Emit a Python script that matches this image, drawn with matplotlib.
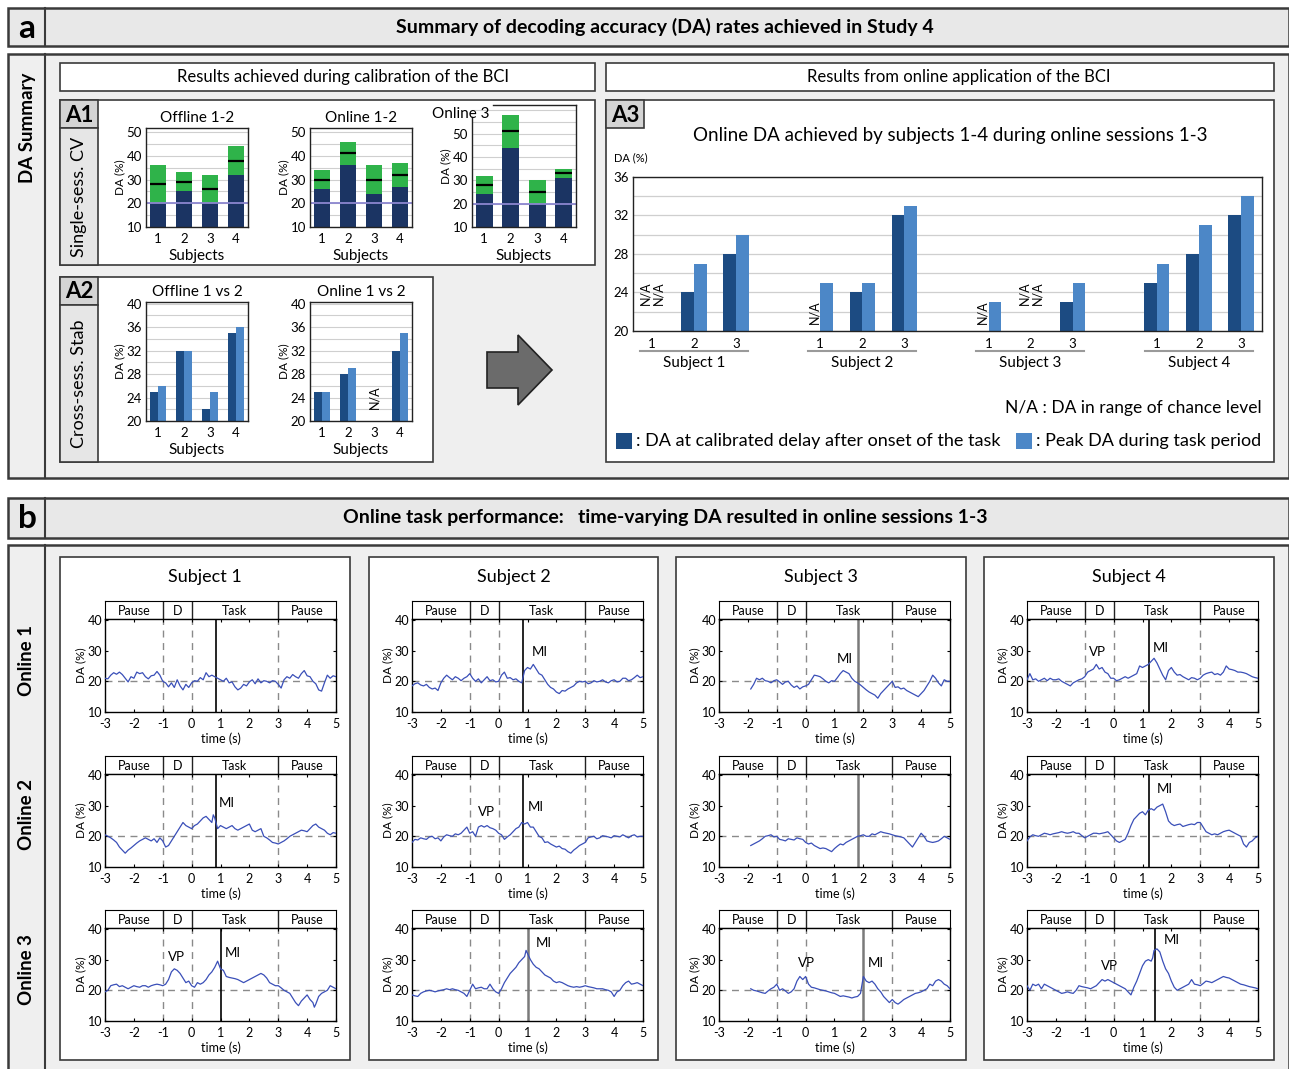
import matplotlib.pyplot as plt
from matplotlib.patches import Rectangle, Polygon

plt.rcParams['font.family'] = ['Lato', 'DejaVu Sans']
plt.rcParams['axes.unicode_minus'] = False

W, H = 1289, 1069

# ---- calibration results (single-session CV) ----
subjects = [1, 2, 3, 4]
cv_titles = ['Offline 1-2', 'Online 1-2', 'Online 3']
cv_base = [[20, 25, 20, 32], [26, 36, 24, 27], [24, 44, 20, 31]]
cv_peak = [[36, 33, 32, 44], [34, 46, 36, 37], [32, 58, 30, 35]]
cv_mean = [[28, 29, 26, 38], [30, 41, 30, 32], [28, 51, 25, 33]]

# ---- cross-session stability ----
stab_titles = ['Offline 1 vs 2', 'Online 1 vs 2']
stab_delay = [[25, 32, 22, 35], [25, 28, None, 32]]
stab_peak = [[26, 32, 25, 36], [25, 29, None, 35]]

# ---- online sessions 1-3 per subject (None = chance level) ----
sessions = [1, 2, 3]
online_delay = [[None, 24, 28], [None, 24, 32], [None, None, 23], [25, 28, 32]]
online_peak = [[None, 27, 30], [25, 25, 33], [23, None, 25], [27, 31, 34]]

# ---- time-varying DA, (time s, DA %) ----
on1_s1 = [(-3.0, 21.0), (-2.9, 20.8), (-2.8, 22.0), (-2.7, 22.8), (-2.6, 22.3), (-2.5, 23.0), (-2.4, 22.2),
          (-2.3, 21.0), (-2.2, 19.8), (-2.1, 21.5), (-2.0, 21.0), (-1.9, 23.0), (-1.8, 22.5), (-1.7, 22.8),
          (-1.6, 21.5), (-1.5, 20.8), (-1.4, 21.8), (-1.3, 22.0), (-1.2, 23.2), (-1.1, 22.0), (-1.0, 20.0),
          (-0.9, 19.5), (-0.8, 18.2), (-0.7, 19.5), (-0.6, 18.0), (-0.5, 20.5), (-0.4, 18.5), (-0.3, 17.2),
          (-0.2, 19.0), (-0.1, 18.0), (0.0, 19.5), (0.1, 20.2), (0.2, 20.0), (0.3, 21.2), (0.4, 20.5),
          (0.5, 22.8), (0.6, 21.5), (0.7, 22.0), (0.8, 21.5), (0.9, 21.0), (1.0, 20.5), (1.1, 20.0),
          (1.2, 21.0), (1.3, 19.5), (1.4, 19.8), (1.5, 18.2), (1.6, 17.2), (1.7, 17.8), (1.8, 19.0),
          (1.9, 18.5), (2.0, 19.8), (2.1, 20.5), (2.2, 19.2), (2.3, 20.8), (2.4, 19.5), (2.5, 20.2),
          (2.6, 20.0), (2.7, 19.5), (2.8, 20.2), (2.9, 20.0), (3.0, 19.0), (3.1, 17.8), (3.2, 20.5),
          (3.3, 21.5), (3.4, 21.0), (3.5, 22.2), (3.6, 21.5), (3.7, 21.0), (3.8, 22.5), (3.9, 23.5),
          (4.0, 21.8), (4.1, 21.5), (4.2, 20.0), (4.3, 19.2), (4.4, 17.2), (4.5, 16.8), (4.6, 19.5),
          (4.7, 22.0), (4.8, 21.0), (4.9, 21.8), (5.0, 21.5)]
on1_s2 = [(-3.0, 18.5), (-2.9, 19.2), (-2.8, 19.5), (-2.7, 18.8), (-2.6, 18.5), (-2.5, 19.0), (-2.4, 18.0),
          (-2.3, 17.5), (-2.2, 17.8), (-2.1, 17.0), (-2.0, 19.5), (-1.9, 21.0), (-1.8, 22.0), (-1.7, 21.2),
          (-1.6, 20.5), (-1.5, 21.5), (-1.4, 21.0), (-1.3, 20.2), (-1.2, 21.0), (-1.1, 21.5), (-1.0, 22.5),
          (-0.9, 21.0), (-0.8, 20.0), (-0.7, 20.8), (-0.6, 19.5), (-0.5, 20.5), (-0.4, 21.5), (-0.3, 20.2),
          (-0.2, 20.5), (-0.1, 19.8), (0.0, 20.0), (0.1, 22.0), (0.2, 23.0), (0.3, 21.0), (0.4, 21.2),
          (0.5, 20.5), (0.6, 20.8), (0.7, 20.0), (0.8, 19.5), (0.9, 23.5), (1.0, 24.5), (1.1, 24.0),
          (1.2, 25.5), (1.3, 24.0), (1.4, 22.5), (1.5, 22.0), (1.6, 20.5), (1.7, 19.0), (1.8, 18.0),
          (1.9, 17.5), (2.0, 16.5), (2.1, 16.0), (2.2, 17.0), (2.3, 16.8), (2.4, 17.5), (2.5, 18.0),
          (2.6, 18.5), (2.7, 19.5), (2.8, 20.0), (2.9, 19.8), (3.0, 20.0), (3.1, 19.2), (3.2, 19.5),
          (3.3, 20.2), (3.4, 19.8), (3.5, 20.0), (3.6, 20.5), (3.7, 19.8), (3.8, 19.5), (3.9, 20.2),
          (4.0, 20.5), (4.1, 19.8), (4.2, 20.0), (4.3, 21.0), (4.4, 21.0), (4.5, 20.2), (4.6, 20.5),
          (4.7, 21.2), (4.8, 22.0), (4.9, 21.2), (5.0, 21.5)]
on1_s3 = [(-1.9, 17.5), (-1.8, 19.0), (-1.7, 21.0), (-1.6, 20.5), (-1.5, 21.0), (-1.4, 20.2), (-1.3, 20.0),
          (-1.2, 19.5), (-1.1, 20.2), (-1.0, 20.5), (-0.9, 19.8), (-0.8, 19.0), (-0.7, 19.8), (-0.6, 20.0),
          (-0.5, 18.8), (-0.4, 18.0), (-0.3, 18.5), (-0.2, 17.5), (-0.1, 18.2), (0.0, 18.5), (0.1, 19.0),
          (0.2, 20.5), (0.3, 22.0), (0.4, 21.8), (0.5, 21.5), (0.6, 20.8), (0.7, 20.0), (0.8, 19.5),
          (0.9, 20.2), (1.0, 20.0), (1.1, 21.2), (1.2, 22.5), (1.3, 23.5), (1.4, 23.0), (1.5, 22.5),
          (1.6, 21.0), (1.7, 20.0), (1.8, 19.5), (1.9, 18.8), (2.0, 18.0), (2.1, 17.2), (2.2, 16.5),
          (2.3, 16.0), (2.4, 15.5), (2.5, 14.5), (2.6, 16.0), (2.7, 17.0), (2.8, 18.0), (2.9, 19.0),
          (3.0, 20.0), (3.1, 18.0), (3.2, 18.2), (3.3, 17.5), (3.4, 17.8), (3.5, 17.0), (3.6, 16.5),
          (3.7, 16.0), (3.8, 15.5), (3.9, 15.0), (4.0, 16.0), (4.1, 17.0), (4.2, 18.5), (4.3, 20.0),
          (4.4, 22.0), (4.5, 21.0), (4.6, 19.5), (4.7, 18.5), (4.8, 20.5), (4.9, 20.0), (5.0, 20.0)]
on1_s4 = [(-3.0, 20.5), (-2.9, 22.5), (-2.8, 20.5), (-2.7, 20.8), (-2.6, 20.0), (-2.5, 20.5), (-2.4, 21.0),
          (-2.3, 20.2), (-2.2, 21.0), (-2.1, 20.5), (-2.0, 20.5), (-1.9, 20.8), (-1.8, 20.0), (-1.7, 19.5),
          (-1.6, 19.0), (-1.5, 18.5), (-1.4, 19.5), (-1.3, 20.0), (-1.2, 20.5), (-1.1, 20.8), (-1.0, 21.5),
          (-0.9, 23.0), (-0.8, 23.5), (-0.7, 24.0), (-0.6, 25.5), (-0.5, 24.0), (-0.4, 24.5), (-0.3, 23.0),
          (-0.2, 22.5), (-0.1, 21.0), (0.0, 21.0), (0.1, 20.2), (0.2, 20.5), (0.3, 21.0), (0.4, 21.5),
          (0.5, 21.0), (0.6, 21.5), (0.7, 22.0), (0.8, 22.5), (0.9, 25.0), (1.0, 24.5), (1.1, 25.0),
          (1.2, 25.5), (1.3, 26.5), (1.4, 27.5), (1.5, 26.0), (1.6, 24.0), (1.7, 22.0), (1.8, 20.5),
          (1.9, 23.5), (2.0, 24.5), (2.1, 23.0), (2.2, 22.0), (2.3, 22.2), (2.4, 21.5), (2.5, 21.0),
          (2.6, 20.5), (2.7, 21.2), (2.8, 21.0), (2.9, 20.5), (3.0, 21.0), (3.1, 22.0), (3.2, 22.5),
          (3.3, 22.8), (3.4, 23.0), (3.5, 22.2), (3.6, 22.5), (3.7, 22.0), (3.8, 23.0), (3.9, 25.0),
          (4.0, 24.0), (4.1, 23.8), (4.2, 23.5), (4.3, 23.0), (4.4, 23.0), (4.5, 22.8), (4.6, 22.5),
          (4.7, 22.0), (4.8, 21.5), (4.9, 21.2), (5.0, 21.0)]
on2_s1 = [(-3.0, 20.5), (-2.9, 20.0), (-2.8, 19.5), (-2.7, 18.8), (-2.6, 18.0), (-2.5, 16.5), (-2.4, 15.5),
          (-2.3, 14.5), (-2.2, 15.5), (-2.1, 16.2), (-2.0, 17.0), (-1.9, 17.8), (-1.8, 18.5), (-1.7, 19.0),
          (-1.6, 19.5), (-1.5, 19.0), (-1.4, 18.5), (-1.3, 19.2), (-1.2, 18.0), (-1.1, 19.5), (-1.0, 18.5),
          (-0.9, 16.5), (-0.8, 17.0), (-0.7, 18.5), (-0.6, 20.0), (-0.5, 21.5), (-0.4, 23.0), (-0.3, 24.5),
          (-0.2, 23.5), (-0.1, 23.0), (0.0, 22.5), (0.1, 23.5), (0.2, 24.0), (0.3, 25.0), (0.4, 26.0),
          (0.5, 26.5), (0.6, 25.5), (0.7, 24.5), (0.75, 27.0), (0.8, 26.0), (0.9, 22.5), (1.0, 23.5),
          (1.1, 23.0), (1.2, 22.5), (1.3, 23.0), (1.4, 23.5), (1.5, 22.5), (1.6, 22.0), (1.7, 22.5),
          (1.8, 23.0), (1.9, 23.5), (2.0, 24.0), (2.1, 22.0), (2.2, 21.5), (2.3, 22.0), (2.4, 22.5),
          (2.5, 20.0), (2.6, 19.5), (2.7, 18.8), (2.8, 18.0), (2.9, 17.8), (3.0, 17.5), (3.1, 18.0),
          (3.2, 18.5), (3.3, 19.2), (3.4, 20.0), (3.5, 20.5), (3.6, 21.0), (3.7, 21.5), (3.8, 22.0),
          (3.9, 21.8), (4.0, 21.5), (4.1, 22.5), (4.2, 23.5), (4.3, 24.0), (4.4, 23.0), (4.5, 22.5),
          (4.6, 22.0), (4.7, 21.0), (4.8, 20.5), (4.9, 21.2), (5.0, 21.0)]
on2_s2 = [(-3.0, 18.0), (-2.9, 19.0), (-2.8, 18.8), (-2.7, 19.5), (-2.6, 19.2), (-2.5, 19.0), (-2.4, 19.8),
          (-2.3, 20.0), (-2.2, 19.2), (-2.1, 19.5), (-2.0, 18.5), (-1.9, 19.8), (-1.8, 20.5), (-1.7, 20.2),
          (-1.6, 20.0), (-1.5, 20.8), (-1.4, 20.5), (-1.3, 21.0), (-1.2, 22.0), (-1.1, 23.0), (-1.0, 21.0),
          (-0.9, 21.5), (-0.8, 20.0), (-0.7, 23.0), (-0.6, 23.5), (-0.5, 23.0), (-0.4, 23.5), (-0.3, 22.8),
          (-0.2, 22.5), (-0.1, 22.0), (0.0, 21.0), (0.1, 20.5), (0.2, 19.0), (0.3, 19.8), (0.4, 20.5),
          (0.5, 21.5), (0.6, 22.5), (0.7, 23.0), (0.8, 24.5), (0.9, 24.0), (1.0, 24.5), (1.1, 23.0),
          (1.2, 23.0), (1.3, 21.5), (1.4, 20.0), (1.5, 19.5), (1.6, 18.0), (1.7, 18.2), (1.8, 17.5),
          (1.9, 17.0), (2.0, 16.5), (2.1, 16.8), (2.2, 16.0), (2.3, 15.8), (2.4, 15.0), (2.5, 14.5),
          (2.6, 15.5), (2.7, 16.2), (2.8, 17.0), (2.9, 17.5), (3.0, 18.0), (3.1, 19.5), (3.2, 19.8),
          (3.3, 20.0), (3.4, 19.2), (3.5, 19.5), (3.6, 20.2), (3.7, 20.0), (3.8, 19.8), (3.9, 19.5),
          (4.0, 20.2), (4.1, 20.0), (4.2, 19.8), (4.3, 20.5), (4.4, 20.0), (4.5, 19.5), (4.6, 20.2),
          (4.7, 20.5), (4.8, 19.8), (4.9, 20.0), (5.0, 20.0)]
on2_s3 = [(-1.9, 17.0), (-1.8, 17.5), (-1.7, 18.0), (-1.6, 18.5), (-1.5, 19.2), (-1.4, 20.0), (-1.3, 20.2),
          (-1.2, 20.5), (-1.1, 19.8), (-1.0, 20.0), (-0.9, 19.0), (-0.8, 18.8), (-0.7, 18.5), (-0.6, 19.2),
          (-0.5, 19.0), (-0.4, 18.8), (-0.3, 19.5), (-0.2, 19.2), (-0.1, 19.0), (0.0, 18.0), (0.1, 17.5),
          (0.2, 17.8), (0.3, 17.0), (0.4, 16.5), (0.5, 16.0), (0.6, 16.2), (0.7, 16.0), (0.8, 15.5),
          (0.9, 15.0), (1.0, 16.0), (1.1, 16.8), (1.2, 17.5), (1.3, 17.2), (1.4, 18.0), (1.5, 18.5),
          (1.6, 19.0), (1.7, 19.5), (1.8, 20.0), (1.9, 20.2), (2.0, 20.5), (2.1, 20.0), (2.2, 20.0),
          (2.3, 20.8), (2.4, 20.5), (2.5, 21.0), (2.6, 21.5), (2.7, 21.2), (2.8, 21.0), (2.9, 20.8),
          (3.0, 20.5), (3.1, 20.2), (3.2, 20.0), (3.3, 19.8), (3.4, 19.5), (3.5, 18.5), (3.6, 17.5),
          (3.7, 16.5), (3.8, 18.0), (3.9, 19.5), (4.0, 21.0), (4.1, 20.0), (4.2, 18.5), (4.3, 18.2),
          (4.4, 18.0), (4.5, 18.2), (4.6, 18.5), (4.7, 19.2), (4.8, 20.0), (4.9, 19.5), (5.0, 19.0)]
on2_s4 = [(-3.0, 18.5), (-2.9, 19.8), (-2.8, 20.5), (-2.7, 20.2), (-2.6, 20.0), (-2.5, 20.5), (-2.4, 21.0),
          (-2.3, 20.8), (-2.2, 20.5), (-2.1, 20.8), (-2.0, 21.0), (-1.9, 21.2), (-1.8, 21.5), (-1.7, 21.2),
          (-1.6, 21.0), (-1.5, 21.2), (-1.4, 21.5), (-1.3, 21.0), (-1.2, 21.0), (-1.1, 20.2), (-1.0, 19.5),
          (-0.9, 20.0), (-0.8, 20.5), (-0.7, 21.0), (-0.6, 21.0), (-0.5, 20.8), (-0.4, 21.0), (-0.3, 21.2),
          (-0.2, 21.5), (-0.1, 20.5), (0.0, 19.5), (0.1, 18.5), (0.2, 18.0), (0.3, 18.5), (0.4, 19.0),
          (0.5, 21.0), (0.6, 23.5), (0.7, 25.5), (0.8, 26.5), (0.9, 27.5), (1.0, 28.0), (1.1, 27.0),
          (1.2, 28.5), (1.3, 29.0), (1.4, 28.5), (1.5, 29.5), (1.6, 30.0), (1.7, 30.5), (1.8, 28.0),
          (1.9, 25.0), (2.0, 24.0), (2.1, 23.5), (2.2, 23.8), (2.3, 24.0), (2.4, 23.2), (2.5, 23.5),
          (2.6, 23.8), (2.7, 24.0), (2.8, 23.8), (2.9, 24.5), (3.0, 24.5), (3.1, 23.0), (3.2, 21.5),
          (3.3, 21.0), (3.4, 20.5), (3.5, 20.8), (3.6, 20.5), (3.7, 21.0), (3.8, 21.5), (3.9, 21.8),
          (4.0, 22.0), (4.1, 21.5), (4.2, 21.0), (4.3, 20.5), (4.4, 20.0), (4.5, 17.5), (4.6, 16.5),
          (4.7, 18.0), (4.8, 18.5), (4.9, 19.5), (5.0, 20.0)]
on3_s1 = [(-3.0, 19.5), (-2.9, 20.0), (-2.8, 21.5), (-2.7, 21.8), (-2.6, 22.0), (-2.5, 21.2), (-2.4, 21.5),
          (-2.3, 21.0), (-2.2, 20.5), (-2.1, 21.0), (-2.0, 21.5), (-1.9, 21.2), (-1.8, 21.0), (-1.7, 21.5),
          (-1.6, 21.5), (-1.5, 21.0), (-1.4, 21.5), (-1.3, 21.8), (-1.2, 22.0), (-1.1, 21.8), (-1.0, 21.5),
          (-0.9, 22.0), (-0.8, 23.5), (-0.7, 26.0), (-0.6, 27.0), (-0.5, 26.5), (-0.4, 25.5), (-0.3, 24.0),
          (-0.2, 22.5), (-0.1, 23.0), (0.0, 21.5), (0.1, 21.0), (0.2, 22.5), (0.3, 22.0), (0.4, 22.5),
          (0.5, 23.5), (0.6, 25.0), (0.7, 26.0), (0.8, 27.5), (0.9, 29.5), (1.0, 27.0), (1.1, 26.5),
          (1.2, 24.5), (1.3, 24.2), (1.4, 24.0), (1.5, 23.8), (1.6, 23.5), (1.7, 23.0), (1.8, 22.5),
          (1.9, 23.0), (2.0, 23.5), (2.1, 24.0), (2.2, 24.5), (2.3, 25.0), (2.4, 25.5), (2.5, 25.0),
          (2.6, 24.0), (2.7, 22.5), (2.8, 22.0), (2.9, 21.5), (3.0, 21.5), (3.1, 20.8), (3.2, 20.0),
          (3.3, 19.5), (3.4, 19.0), (3.5, 17.5), (3.6, 16.0), (3.7, 15.0), (3.8, 16.5), (3.9, 17.5),
          (4.0, 18.5), (4.1, 17.0), (4.2, 16.0), (4.25, 14.5), (4.3, 15.5), (4.4, 18.0), (4.5, 19.0),
          (4.6, 19.5), (4.7, 20.0), (4.8, 21.5), (4.9, 21.0), (5.0, 20.5)]
on3_s2 = [(-3.0, 18.5), (-2.9, 18.2), (-2.8, 18.0), (-2.7, 19.0), (-2.6, 19.5), (-2.5, 19.8), (-2.4, 20.0),
          (-2.3, 19.8), (-2.2, 19.5), (-2.1, 19.8), (-2.0, 20.0), (-1.9, 20.2), (-1.8, 20.5), (-1.7, 20.2),
          (-1.6, 20.5), (-1.5, 20.2), (-1.4, 20.0), (-1.3, 19.5), (-1.2, 19.0), (-1.1, 18.0), (-1.0, 20.0),
          (-0.9, 22.0), (-0.8, 20.5), (-0.7, 20.8), (-0.6, 21.0), (-0.5, 20.5), (-0.4, 20.5), (-0.3, 22.0),
          (-0.2, 20.5), (-0.1, 19.5), (0.0, 19.0), (0.1, 20.5), (0.2, 22.5), (0.3, 24.0), (0.4, 25.5),
          (0.5, 26.5), (0.6, 27.5), (0.7, 29.0), (0.8, 30.0), (0.9, 31.0), (0.95, 33.0), (1.0, 32.0),
          (1.1, 30.0), (1.2, 28.5), (1.3, 27.5), (1.4, 27.0), (1.5, 26.0), (1.6, 25.0), (1.7, 24.5),
          (1.8, 24.0), (1.9, 23.0), (2.0, 22.5), (2.1, 22.8), (2.2, 22.5), (2.3, 22.0), (2.4, 21.5),
          (2.5, 21.2), (2.6, 21.0), (2.7, 21.2), (2.8, 21.0), (2.9, 21.2), (3.0, 21.5), (3.1, 21.2),
          (3.2, 21.0), (3.3, 20.8), (3.4, 20.5), (3.5, 20.5), (3.6, 20.5), (3.7, 20.2), (3.8, 20.0),
          (3.9, 19.5), (4.0, 18.0), (4.1, 19.5), (4.2, 20.0), (4.3, 21.5), (4.4, 22.5), (4.5, 23.0),
          (4.6, 22.0), (4.7, 22.2), (4.8, 22.5), (4.9, 22.0), (5.0, 21.5)]
on3_s3 = [(-1.9, 20.5), (-1.8, 20.0), (-1.7, 19.8), (-1.6, 19.5), (-1.5, 19.2), (-1.4, 19.0), (-1.3, 19.8),
          (-1.2, 20.5), (-1.1, 21.0), (-1.0, 22.0), (-0.9, 20.0), (-0.8, 20.5), (-0.7, 19.8), (-0.6, 19.0),
          (-0.5, 19.5), (-0.4, 20.5), (-0.3, 23.0), (-0.2, 24.5), (-0.1, 23.5), (0.0, 24.5), (0.1, 22.0),
          (0.2, 21.0), (0.3, 20.8), (0.4, 20.5), (0.5, 20.2), (0.6, 20.0), (0.7, 19.8), (0.8, 19.5),
          (0.9, 19.2), (1.0, 19.0), (1.1, 18.5), (1.2, 18.0), (1.3, 18.2), (1.4, 18.0), (1.5, 17.8),
          (1.6, 17.5), (1.7, 17.8), (1.8, 18.0), (1.9, 19.0), (2.0, 24.5), (2.1, 23.0), (2.2, 22.5),
          (2.3, 23.0), (2.4, 22.0), (2.5, 20.5), (2.6, 19.5), (2.7, 18.0), (2.8, 17.0), (2.9, 16.0),
          (3.0, 17.0), (3.1, 16.0), (3.2, 15.5), (3.3, 16.2), (3.4, 17.0), (3.5, 17.5), (3.6, 18.0),
          (3.7, 18.5), (3.8, 19.0), (3.9, 19.2), (4.0, 19.5), (4.1, 20.0), (4.2, 20.5), (4.3, 22.0),
          (4.4, 21.5), (4.5, 23.0), (4.6, 23.5), (4.7, 23.0), (4.8, 22.0), (4.9, 21.5), (5.0, 20.5)]
on3_s4 = [(-3.0, 21.5), (-2.9, 20.0), (-2.8, 22.0), (-2.7, 21.5), (-2.6, 22.0), (-2.5, 20.5), (-2.4, 22.0),
          (-2.3, 21.5), (-2.2, 21.0), (-2.1, 20.5), (-2.0, 20.0), (-1.9, 19.5), (-1.8, 19.0), (-1.7, 19.2),
          (-1.6, 19.5), (-1.5, 19.2), (-1.4, 19.0), (-1.3, 20.0), (-1.2, 21.5), (-1.1, 21.2), (-1.0, 21.0),
          (-0.9, 20.8), (-0.8, 20.5), (-0.7, 21.0), (-0.6, 21.5), (-0.5, 22.5), (-0.4, 23.5), (-0.3, 23.0),
          (-0.2, 23.5), (-0.1, 23.0), (0.0, 22.5), (0.1, 22.0), (0.2, 21.5), (0.3, 21.0), (0.4, 20.5),
          (0.5, 19.5), (0.6, 18.5), (0.7, 21.0), (0.8, 23.0), (0.9, 25.5), (1.0, 28.0), (1.1, 29.5),
          (1.2, 30.0), (1.3, 29.5), (1.35, 30.5), (1.4, 33.0), (1.5, 33.5), (1.6, 32.5), (1.7, 29.5),
          (1.8, 27.0), (1.9, 25.5), (2.0, 23.0), (2.1, 21.0), (2.2, 20.0), (2.3, 20.5), (2.4, 21.0),
          (2.5, 21.5), (2.6, 22.0), (2.7, 23.5), (2.8, 22.0), (2.9, 21.8), (3.0, 21.5), (3.1, 22.2),
          (3.2, 23.0), (3.3, 22.8), (3.4, 22.5), (3.5, 23.0), (3.6, 23.5), (3.7, 24.0), (3.8, 24.5),
          (3.9, 24.2), (4.0, 24.0), (4.1, 23.5), (4.2, 23.0), (4.3, 22.5), (4.4, 22.0), (4.5, 21.8),
          (4.6, 21.5), (4.7, 21.2), (4.8, 21.0), (4.9, 20.8), (5.0, 20.5)]

traces = [[on1_s1, on1_s2, on1_s3, on1_s4],
          [on2_s1, on2_s2, on2_s3, on2_s4],
          [on3_s1, on3_s2, on3_s3, on3_s4]]
# calibrated delay used online (s)
onset = [[0.83, 0.84, 1.8, 1.24], [0.83, 0.84, 1.8, 1.24], [1.03, 1.03, 2.0, 1.43]]
onset_grey = [[False, False, True, False], [False, False, True, False], [False, True, True, False]]
marks = [(0, 1, 'MI', 1.44, 29.5), (0, 2, 'MI', 1.36, 27.3), (0, 3, 'VP', -0.56, 29.5), (0, 3, 'MI', 1.64, 31.0),
         (1, 0, 'MI', 1.23, 31.0), (1, 1, 'VP', -0.43, 27.8), (1, 1, 'MI', 1.27, 29.5), (1, 3, 'MI', 1.77, 35.4),
         (2, 0, 'VP', -0.51, 31.0), (2, 0, 'MI', 1.43, 32.0), (2, 1, 'MI', 1.56, 35.4),
         (2, 2, 'VP', 0.03, 29.0), (2, 2, 'MI', 2.43, 29.0), (2, 3, 'VP', -0.16, 27.8), (2, 3, 'MI', 2.03, 36.3)]

navy = '#1b3463'
green = '#2fb34a'
dark_blue = '#1c4b82'
light_blue = '#4c87c7'
chance_purple = '#8c86d0'
trace_blue = '#3a4fb8'
edge = '#3a3a3a'


def box(x0, y0, x1, y1):
    return [x0 / W, 1 - y1 / H, (x1 - x0) / W, (y1 - y0) / H]


fig = plt.figure(figsize=(W / 100, H / 100), dpi=100)
bg = fig.add_axes([0, 0, 1, 1])
bg.set_xlim(0, W)
bg.set_ylim(H, 0)
bg.axis('off')


def rect(x0, y0, x1, y1, fc, ec=edge, lw=1.2):
    bg.add_patch(Rectangle((x0, y0), x1 - x0, y1 - y0, facecolor=fc, edgecolor=ec, linewidth=lw))


# section headers
for y0, y1, letter, title in [(8, 46, 'a', 'Summary of decoding accuracy (DA) rates achieved in Study 4'),
                              (498, 538, 'b', 'Online task performance:   time-varying DA resulted in online sessions 1-3')]:
    rect(8, y0, 1289, y1, '#e8e8e8', lw=1.8)
    bg.plot([45, 45], [y0, y1], color=edge, lw=1.5)
    bg.text(27, (y0 + y1) / 2 + 1, letter, ha='center', va='center', fontsize=24, fontweight='bold')
    bg.text(665, (y0 + y1) / 2, title, ha='center', va='center', fontsize=14, fontweight='bold')

# section bodies
rect(8, 54, 1289, 478, '#efefef', lw=1.8)
bg.plot([45, 45], [54, 478], color=edge, lw=1.5)
bg.text(27, 128, 'DA Summary', rotation=90, ha='center', va='center', fontsize=13.5, fontweight='bold')
rect(8, 545, 1289, 1075, '#efefef', lw=1.8)
bg.plot([45, 45], [545, 1069], color=edge, lw=1.5)
for yc, lab in zip([660, 815, 970], ['Online 1', 'Online 2', 'Online 3']):
    bg.text(27, yc, lab, rotation=90, ha='center', va='center', fontsize=13.5, fontweight='bold')

rect(60, 63, 595, 91, 'white')
bg.text(343, 77, 'Results achieved during calibration of the BCI', ha='center', va='center', fontsize=12)
rect(606, 63, 1274, 91, 'white')
bg.text(959, 77, 'Results from online application of the BCI', ha='center', va='center', fontsize=12)

# A1 / A2 / A3 frames
for x0, y0, x1, y1, tag, side in [(60, 100, 595, 265, 'A1', 'Single-sess. CV'),
                                  (60, 277, 433, 462, 'A2', 'Cross-sess. Stab'),
                                  (606, 100, 1274, 462, 'A3', None)]:
    rect(x0, y0, x1, y1, 'white')
    rect(x0, y0, x0 + 38, y0 + 28, '#d4d4d4')
    bg.text(x0 + 19, y0 + 15, tag, ha='center', va='center', fontsize=16, fontweight='bold')
    if side:
        rect(x0, y0 + 28, x0 + 38, y1, '#e6e6e6')
        bg.text(x0 + 19, (y0 + 28 + y1) / 2, side, rotation=90, ha='center', va='center', fontsize=13)

# arrow between calibration and online results
bg.add_patch(Polygon([(487, 352), (518, 352), (518, 335), (552, 370), (518, 405), (518, 388), (487, 388)],
                     closed=True, facecolor='#6b6b6b', edgecolor='#222222', linewidth=1.2))

# subject panels
panel_x = [(60, 350), (369, 658), (676, 966), (984, 1274)]
for k, (x0, x1) in enumerate(panel_x):
    rect(x0, 557, x1, 1060, 'white')
    bg.text((x0 + x1) / 2, 577, 'Subject %d' % (k + 1), ha='center', va='center', fontsize=13)


def style_small(ax):
    ax.tick_params(labelsize=9.5, length=0, pad=4)
    ax.tick_params(which='minor', length=0)
    for s in ax.spines.values():
        s.set_color('#222222')
        s.set_linewidth(1.0)
    ax.set_axisbelow(True)


# A1: single-session cross-validation
cv_x = [(146, 248), (310, 412), (472, 576)]
for k in range(3):
    x0, x1 = cv_x[k]
    top = 104.5 if k == 2 else 128
    ax = fig.add_axes(box(x0, top, x1, 227))
    ax.bar(subjects, cv_peak[k], width=0.65, color=green, zorder=2)
    ax.bar(subjects, cv_base[k], width=0.65, color=navy, zorder=2)
    ax.hlines(cv_mean[k], [s - 0.32 for s in subjects], [s + 0.32 for s in subjects],
              color='black', lw=1.6, zorder=3)
    ax.axhline(20, color=chance_purple, lw=1.3, zorder=2.5)
    ax.set_xticks(subjects)
    ax.set_yticks([10, 20, 30, 40, 50])
    ax.set_yticks([15, 25, 35, 45, 55, 60] if k == 2 else [15, 25, 35, 45], minor=True)
    ax.set_xlim(0.54, 4.46)
    ax.set_ylim(10, 62.5 if k == 2 else 51.7)
    ax.grid(axis='y', which='both', color='#cfcfcf', lw=0.8)
    style_small(ax)
    ax.tick_params(axis='y', pad=3)
    ax.set_xlabel('Subjects', fontsize=11, labelpad=3)
    ax.set_ylabel('DA (%)', fontsize=8.5, labelpad=1)
    if k == 2:
        ax.spines['top'].set_bounds(1.35, 4.46)
        ax.spines['left'].set_bounds(10, 57)
        ax.text(-0.106, 0.922, cv_titles[k], transform=ax.transAxes, ha='center', va='center', fontsize=11)
    else:
        ax.set_title(cv_titles[k], fontsize=11, pad=4)

# A2: cross-session stability
st_x = [(146, 248), (310, 412)]
for k in range(2):
    x0, x1 = st_x[k]
    ax = fig.add_axes(box(x0, 302, x1, 421))
    for s, d, p in zip(subjects, stab_delay[k], stab_peak[k]):
        if d is None:
            ax.text(s, 24, 'N/A', rotation=90, ha='center', va='center', fontsize=9)
            continue
        ax.bar(s - 0.15, d, width=0.3, color=dark_blue, zorder=2)
        ax.bar(s + 0.15, p, width=0.3, color=light_blue, zorder=2)
    ax.set_xticks(subjects)
    ax.set_yticks([20, 24, 28, 32, 36, 40])
    ax.set_yticks([22, 26, 30, 34, 38], minor=True)
    ax.set_xlim(0.54, 4.46)
    ax.set_ylim(20, 40.3)
    ax.grid(axis='y', which='both', color='#cfcfcf', lw=0.8)
    style_small(ax)
    ax.tick_params(axis='y', pad=3)
    ax.set_xlabel('Subjects', fontsize=11, labelpad=3)
    ax.set_ylabel('DA (%)', fontsize=8.5, labelpad=1)
    ax.set_title(stab_titles[k], fontsize=11, pad=4)

# A3: online sessions
bg.text(950, 136, 'Online DA achieved by subjects 1-4 during online sessions 1-3', ha='center', va='center', fontsize=13.5)
bg.text(614, 158, 'DA (%)', ha='left', va='center', fontsize=8)
ax = fig.add_axes(box(633, 177, 1262, 331))
xpos, xlab = [], []
for g in range(4):
    for s, d, p in zip(sessions, online_delay[g], online_peak[g]):
        x = g * 4 + (s - 1)
        xpos.append(x)
        xlab.append(str(s))
        if d is None and p is None:
            for dx in (-0.15, 0.15):
                ax.text(x + dx, 23.9, 'N/A', rotation=90, ha='center', va='center', fontsize=9)
            continue
        if d is None:
            ax.text(x - 0.15, 22.0, 'N/A', rotation=90, ha='center', va='center', fontsize=9)
        else:
            ax.bar(x - 0.15, d, width=0.3, color=dark_blue, zorder=2)
        ax.bar(x + 0.15, p, width=0.3, color=light_blue, zorder=2)
    ax.plot([g * 4 - 0.29, g * 4 + 2.28], [-0.13, -0.13], transform=ax.get_xaxis_transform(),
            color='#9a9a9a', lw=1.5, clip_on=False)
    ax.text(g * 4 + 1, -0.21, 'Subject %d' % (g + 1), transform=ax.get_xaxis_transform(),
            ha='center', va='center', fontsize=11)
ax.set_xticks(xpos)
ax.set_xticklabels(xlab)
ax.set_yticks([20, 24, 28, 32, 36])
ax.set_yticks([22, 26, 30, 34], minor=True)
ax.set_xlim(-0.45, 14.5)
ax.set_ylim(20, 36)
ax.grid(axis='y', which='both', color='#cfcfcf', lw=0.9)
style_small(ax)
ax.tick_params(axis='x', pad=5)
ax.tick_params(axis='y', pad=3)

bg.text(1262, 408, 'N/A : DA in range of chance level', ha='right', va='center', fontsize=12.5)
rect(616, 433, 632, 449, dark_blue, ec='none')
bg.text(636, 441, ': DA at calibrated delay after onset of the task', ha='left', va='center', fontsize=13)
rect(1016, 433, 1032, 449, light_blue, ec='none')
bg.text(1036, 441, ': Peak DA during task period', ha='left', va='center', fontsize=13)

# b: time-varying DA
col_left = [105, 412, 719, 1027]
row_top = [601, 756, 910]
phase_edges = [-1, 0, 3]
phase_names = [('Pause', -2), ('D', -0.5), ('Task', 1.5), ('Pause', 4)]
ts_axes = []
for r in range(3):
    row_axes = []
    for c in range(4):
        left, top = col_left[c], row_top[r]
        hdr = fig.add_axes(box(left, top, left + 231, top + 18))
        hdr.set_xlim(-3, 5)
        hdr.set_ylim(0, 1)
        hdr.set_xticks([])
        hdr.set_yticks([])
        for e in phase_edges:
            hdr.axvline(e, color='#222222', lw=1)
        for name, xc in phase_names:
            hdr.text(xc, 0.45, name, ha='center', va='center', fontsize=9)

        ax = fig.add_axes(box(left, top + 18, left + 231, top + 111))
        t, da = zip(*traces[r][c])
        ax.plot(t, da, color=trace_blue, lw=0.9, zorder=3)
        for e in phase_edges:
            ax.axvline(e, color='#8a8a8a', lw=1, ls=(0, (5, 4)), zorder=1)
        ax.axhline(20, color='#8a8a8a', lw=1, ls=(0, (5, 4)), zorder=1)
        ax.axvline(onset[r][c], color='#7a7a7a' if onset_grey[r][c] else 'black',
                   lw=1.8 if onset_grey[r][c] else 1.2, zorder=2)
        ax.set_xticks(range(-3, 6))
        ax.set_yticks([10, 20, 30, 40])
        ax.set_xlim(-3, 5)
        ax.set_ylim(10, 40.3)
        ax.tick_params(direction='in', length=2.5, labelsize=9, pad=2, top=True, right=True)
        ax.tick_params(axis='x', pad=4)
        ax.set_ylabel('DA (%)', fontsize=8.5, labelpad=1)
        ax.set_xlabel('time (s)', fontsize=9, labelpad=2)
        for s in ax.spines.values():
            s.set_linewidth(1.0)
        row_axes.append(ax)
    ts_axes.append(row_axes)

for r, c, txt, x, y in marks:
    ts_axes[r][c].text(x, y, txt, ha='center', va='center', fontsize=9.5)

fig.savefig('out.png', dpi=100)
